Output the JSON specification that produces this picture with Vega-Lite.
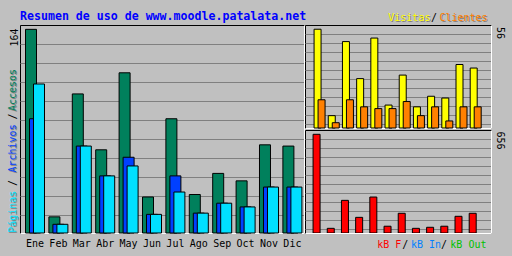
{
  "$schema": "https://vega.github.io/schema/vega-lite/v6.json",
  "autosize": "none",
  "padding": {"left": 20, "top": 25, "right": 492, "bottom": 231},
  "background": "#C0C0C0",
  "bounds": "flush",
  "spacing": 1,
  "config": {
    "font": "DejaVu Sans Mono",
    "view": {"stroke": "#000000", "strokeWidth": 1, "fill": null},
    "axis": {
      "grid": false, "domain": false, "ticks": false, "tickSize": 0, "labels": false,
      "labelFont": "DejaVu Sans Mono", "labelFontSize": 10, "labelColor": "#000000",
      "titleFont": "DejaVu Sans Mono", "titleFontSize": 10, "titleFontWeight": "normal", "titleColor": "#000000",
      "domainColor": "#FFFFFF", "domainWidth": 1,
      "gridColor": "#808080", "gridOpacity": 1, "gridWidth": 1,
      "labelOverlap": false, "labelFlush": false, "titlePadding": 0
    }
  },
  "datasets": {
    "datos": [
      {"mes": "Ene", "n": 1, "serie": "Accesos", "valor": 164},
      {"mes": "Feb", "n": 2, "serie": "Accesos", "valor": 13},
      {"mes": "Mar", "n": 3, "serie": "Accesos", "valor": 112},
      {"mes": "Abr", "n": 4, "serie": "Accesos", "valor": 67},
      {"mes": "May", "n": 5, "serie": "Accesos", "valor": 129},
      {"mes": "Jun", "n": 6, "serie": "Accesos", "valor": 29},
      {"mes": "Jul", "n": 7, "serie": "Accesos", "valor": 92},
      {"mes": "Ago", "n": 8, "serie": "Accesos", "valor": 31},
      {"mes": "Sep", "n": 9, "serie": "Accesos", "valor": 48},
      {"mes": "Oct", "n": 10, "serie": "Accesos", "valor": 42},
      {"mes": "Nov", "n": 11, "serie": "Accesos", "valor": 71},
      {"mes": "Dic", "n": 12, "serie": "Accesos", "valor": 70},
      {"mes": "Ene", "n": 1, "serie": "Archivos", "valor": 92},
      {"mes": "Feb", "n": 2, "serie": "Archivos", "valor": 7},
      {"mes": "Mar", "n": 3, "serie": "Archivos", "valor": 70},
      {"mes": "Abr", "n": 4, "serie": "Archivos", "valor": 46},
      {"mes": "May", "n": 5, "serie": "Archivos", "valor": 61},
      {"mes": "Jun", "n": 6, "serie": "Archivos", "valor": 15},
      {"mes": "Jul", "n": 7, "serie": "Archivos", "valor": 46},
      {"mes": "Ago", "n": 8, "serie": "Archivos", "valor": 16},
      {"mes": "Sep", "n": 9, "serie": "Archivos", "valor": 24},
      {"mes": "Oct", "n": 10, "serie": "Archivos", "valor": 21},
      {"mes": "Nov", "n": 11, "serie": "Archivos", "valor": 37},
      {"mes": "Dic", "n": 12, "serie": "Archivos", "valor": 37},
      {"mes": "Ene", "n": 1, "serie": "Páginas", "valor": 120},
      {"mes": "Feb", "n": 2, "serie": "Páginas", "valor": 7},
      {"mes": "Mar", "n": 3, "serie": "Páginas", "valor": 70},
      {"mes": "Abr", "n": 4, "serie": "Páginas", "valor": 46},
      {"mes": "May", "n": 5, "serie": "Páginas", "valor": 54},
      {"mes": "Jun", "n": 6, "serie": "Páginas", "valor": 15},
      {"mes": "Jul", "n": 7, "serie": "Páginas", "valor": 33},
      {"mes": "Ago", "n": 8, "serie": "Páginas", "valor": 16},
      {"mes": "Sep", "n": 9, "serie": "Páginas", "valor": 24},
      {"mes": "Oct", "n": 10, "serie": "Páginas", "valor": 21},
      {"mes": "Nov", "n": 11, "serie": "Páginas", "valor": 37},
      {"mes": "Dic", "n": 12, "serie": "Páginas", "valor": 37},
      {"mes": "Ene", "n": 1, "serie": "Visitas", "valor": 56},
      {"mes": "Feb", "n": 2, "serie": "Visitas", "valor": 7},
      {"mes": "Mar", "n": 3, "serie": "Visitas", "valor": 49},
      {"mes": "Abr", "n": 4, "serie": "Visitas", "valor": 28},
      {"mes": "May", "n": 5, "serie": "Visitas", "valor": 51},
      {"mes": "Jun", "n": 6, "serie": "Visitas", "valor": 13},
      {"mes": "Jul", "n": 7, "serie": "Visitas", "valor": 30},
      {"mes": "Ago", "n": 8, "serie": "Visitas", "valor": 12},
      {"mes": "Sep", "n": 9, "serie": "Visitas", "valor": 18},
      {"mes": "Oct", "n": 10, "serie": "Visitas", "valor": 17},
      {"mes": "Nov", "n": 11, "serie": "Visitas", "valor": 36},
      {"mes": "Dic", "n": 12, "serie": "Visitas", "valor": 34},
      {"mes": "Ene", "n": 1, "serie": "Clientes", "valor": 16},
      {"mes": "Feb", "n": 2, "serie": "Clientes", "valor": 3},
      {"mes": "Mar", "n": 3, "serie": "Clientes", "valor": 16},
      {"mes": "Abr", "n": 4, "serie": "Clientes", "valor": 12},
      {"mes": "May", "n": 5, "serie": "Clientes", "valor": 11},
      {"mes": "Jun", "n": 6, "serie": "Clientes", "valor": 11},
      {"mes": "Jul", "n": 7, "serie": "Clientes", "valor": 15},
      {"mes": "Ago", "n": 8, "serie": "Clientes", "valor": 7},
      {"mes": "Sep", "n": 9, "serie": "Clientes", "valor": 12},
      {"mes": "Oct", "n": 10, "serie": "Clientes", "valor": 4},
      {"mes": "Nov", "n": 11, "serie": "Clientes", "valor": 12},
      {"mes": "Dic", "n": 12, "serie": "Clientes", "valor": 12},
      {"mes": "Ene", "n": 1, "serie": "kB F", "valor": 656},
      {"mes": "Feb", "n": 2, "serie": "kB F", "valor": 31},
      {"mes": "Mar", "n": 3, "serie": "kB F", "valor": 217},
      {"mes": "Abr", "n": 4, "serie": "kB F", "valor": 104},
      {"mes": "May", "n": 5, "serie": "kB F", "valor": 239},
      {"mes": "Jun", "n": 6, "serie": "kB F", "valor": 45},
      {"mes": "Jul", "n": 7, "serie": "kB F", "valor": 131},
      {"mes": "Ago", "n": 8, "serie": "kB F", "valor": 31},
      {"mes": "Sep", "n": 9, "serie": "kB F", "valor": 38},
      {"mes": "Oct", "n": 10, "serie": "kB F", "valor": 45},
      {"mes": "Nov", "n": 11, "serie": "kB F", "valor": 111},
      {"mes": "Dic", "n": 12, "serie": "kB F", "valor": 131}
    ]
  },
  "hconcat": [
    {
      "width": 284,
      "height": 208,
      "data": {"name": "datos"},
      "resolve": {"axis": {"x": "independent", "y": "independent"}},
      "layer": [
        {
          "transform": [{"filter": "datum.serie === 'Accesos'"}],
          "mark": {"type": "bar", "width": 11, "xOffset": -2.3, "fill": "#00805C", "stroke": "#000000", "strokeWidth": 1},
          "encoding": {
            "x": {
              "field": "mes", "type": "nominal", "sort": null,
              "scale": {"type": "band", "paddingInner": 0, "paddingOuter": 0.0684},
              "axis": {
                "orient": "bottom", "labels": true, "labelAngle": 0, "labelPadding": 13.7,
                "labelBaseline": "alphabetic", "labelAlign": "center", "labelOffset": 1.7,
                "domain": true, "domainColor": "#FFFFFF", "title": null
              }
            },
            "y": {
              "field": "valor", "type": "quantitative",
              "scale": {"domain": [0, 167.5], "nice": false},
              "axis": {
                "orient": "right",
                "values": [14.5, 29.8, 45.1, 60.4, 75.7, 91.0, 106.3, 121.6, 136.9, 152.2],
                "grid": true, "domain": true, "domainColor": "#FFFFFF",
                "title": "164", "titleAngle": -90, "titleX": -287, "titleY": 21,
                "titleAlign": "left", "titleBaseline": "alphabetic"
              }
            }
          }
        },
        {
          "transform": [{"filter": "datum.serie === 'Archivos'"}],
          "mark": {"type": "bar", "width": 11, "xOffset": 1.7, "fill": "#0040FF", "stroke": "#000000", "strokeWidth": 1},
          "encoding": {
            "x": {
              "field": "mes", "type": "nominal", "sort": null,
              "scale": {"type": "band", "paddingInner": 0, "paddingOuter": 0.0684},
              "axis": {
                "orient": "top", "domain": false,
                "title": "Resumen de uso de www.moodle.patalata.net",
                "titleX": -0.5, "titleY": -6, "titleAlign": "left", "titleBaseline": "alphabetic",
                "titleAngle": 0, "titleColor": "#0000FF", "titleFontSize": 11.6, "titleFontWeight": "bold"
              }
            },
            "y": {
              "field": "valor", "type": "quantitative",
              "scale": {"domain": [0, 167.5], "nice": false},
              "axis": {
                "orient": "left", "zindex": 1,
                "values": [0.56, 38.25, 49.12, 91.8, 98.57],
                "labels": true,
                "labelExpr": "datum.value < 1 ? 'Páginas' : datum.value < 45 ? '/' : datum.value < 60 ? 'Archivos' : datum.value < 95 ? '/' : 'Accesos'",
                "labelColor": {"expr": "datum.value < 1 ? '#00E0FF' : datum.value < 45 ? '#000000' : datum.value < 60 ? '#0040FF' : datum.value < 95 ? '#000000' : '#00805C'"},
                "labelAngle": -90, "labelAlign": "left", "labelBaseline": "alphabetic",
                "labelPadding": 5, "title": null
              }
            }
          }
        },
        {
          "transform": [{"filter": "datum.serie === 'Páginas'"}],
          "mark": {"type": "bar", "width": 11, "xOffset": 5.7, "fill": "#00E0FF", "stroke": "#000000", "strokeWidth": 1},
          "encoding": {
            "x": {
              "field": "mes", "type": "nominal", "sort": null,
              "scale": {"type": "band", "paddingInner": 0, "paddingOuter": 0.0684},
              "axis": null
            },
            "y": {
              "field": "valor", "type": "quantitative",
              "scale": {"domain": [0, 167.5], "nice": false},
              "axis": {
                "orient": "left", "zindex": 0,
                "values": [0.56, 49.12, 98.57],
                "labels": true,
                "labelExpr": "datum.value < 1 ? 'Páginas' : datum.value < 60 ? 'Archivos' : 'Accesos'",
                "labelColor": "#808080",
                "labelAngle": -90, "labelAlign": "left", "labelBaseline": "alphabetic",
                "labelPadding": 4, "labelOffset": 1, "title": null
              }
            }
          }
        }
      ]
    },
    {
      "bounds": "flush",
      "spacing": 2,
      "vconcat": [
        {
          "width": 186,
          "height": 103,
          "data": {"name": "datos"},
          "resolve": {"axis": {"x": "independent", "y": "independent"}},
          "layer": [
            {
              "transform": [{"filter": "datum.serie === 'Visitas'"}],
              "mark": {"type": "bar", "orient": "vertical", "width": 7, "fill": "#FFFF00", "stroke": "#000000", "strokeWidth": 1},
              "encoding": {
                "x": {
                  "field": "n", "type": "quantitative",
                  "scale": {"domain": [0.467, 12.867], "nice": false, "zero": false},
                  "axis": {
                    "orient": "top", "zindex": 1, "values": [5.947, 8.953, 9.547], "labels": true,
                    "labelExpr": "datum.value < 6 ? 'Visitas' : datum.value < 9.2 ? '/' : 'Clientes'",
                    "labelColor": {"expr": "datum.value < 6 ? '#FFFF00' : datum.value < 9.2 ? '#000000' : '#FF8000'"},
                    "labelAngle": 0, "labelAlign": "left", "labelBaseline": "alphabetic",
                    "labelPadding": 5, "title": null
                  }
                },
                "y": {
                  "field": "valor", "type": "quantitative",
                  "scale": {"domain": [0, 58.4], "nice": false},
                  "axis": {
                    "orient": "right",
                    "values": [2.1, 7.2, 12.3, 17.4, 22.5, 27.6, 32.7, 37.8, 42.9, 48.0, 53.1],
                    "grid": true, "domain": true, "domainColor": "#FFFFFF",
                    "title": "56", "titleAngle": 90, "titleX": 5, "titleY": 1.5,
                    "titleAlign": "left", "titleBaseline": "alphabetic"
                  }
                }
              }
            },
            {
              "transform": [{"filter": "datum.serie === 'Clientes'"}],
              "mark": {"type": "bar", "orient": "vertical", "width": 7, "xOffset": 4, "fill": "#FF8000", "stroke": "#000000", "strokeWidth": 1},
              "encoding": {
                "x": {
                  "field": "n", "type": "quantitative",
                  "scale": {"domain": [0.467, 12.867], "nice": false, "zero": false},
                  "axis": {
                    "orient": "bottom", "zindex": 0, "domain": true, "domainColor": "#FFFFFF",
                    "values": [5.947, 9.547], "labels": true,
                    "labelExpr": "datum.value < 6 ? 'Visitas' : 'Clientes'",
                    "labelColor": "#808080",
                    "labelAngle": 0, "labelAlign": "left", "labelBaseline": "alphabetic",
                    "labelPadding": -107, "labelOffset": 1, "title": null
                  }
                },
                "y": {
                  "field": "valor", "type": "quantitative",
                  "scale": {"domain": [0, 58.4], "nice": false},
                  "axis": null
                }
              }
            }
          ]
        },
        {
          "width": 186,
          "height": 103,
          "data": {"name": "datos"},
          "transform": [{"filter": "datum.serie === 'kB F'"}],
          "mark": {"type": "bar", "orient": "vertical", "width": 7, "xOffset": -1, "fill": "#FF0000", "stroke": "#000000", "strokeWidth": 1},
          "encoding": {
            "x": {
              "field": "n", "type": "quantitative",
              "scale": {"domain": [0.467, 12.867], "nice": false, "zero": false},
              "axis": {
                "orient": "bottom", "zindex": 1, "domain": true, "domainColor": "#FFFFFF",
                "values": [5.167, 6.933, 7.547, 9.667, 10.32], "labels": true,
                "labelExpr": "datum.value < 6 ? 'kB F' : datum.value < 7.2 ? '/' : datum.value < 9 ? 'kB In' : datum.value < 10 ? '/' : 'kB Out'",
                "labelColor": {"expr": "datum.value < 6 ? '#FF0000' : datum.value < 7.2 ? '#000000' : datum.value < 9 ? '#0080FF' : datum.value < 10 ? '#000000' : '#00C000'"},
                "labelAngle": 0, "labelAlign": "left", "labelBaseline": "alphabetic",
                "labelPadding": 14, "title": null
              }
            },
            "y": {
              "field": "valor", "type": "quantitative",
              "scale": {"domain": [0, 684.6], "nice": false},
              "axis": {
                "orient": "right",
                "values": [24.8, 84.6, 144.4, 204.2, 264.0, 323.8, 383.6, 443.4, 503.2, 563.0, 622.8],
                "grid": true, "domain": true, "domainColor": "#FFFFFF",
                "title": "656", "titleAngle": 90, "titleX": 5, "titleY": 1,
                "titleAlign": "left", "titleBaseline": "alphabetic"
              }
            }
          }
        }
      ]
    }
  ]
}
